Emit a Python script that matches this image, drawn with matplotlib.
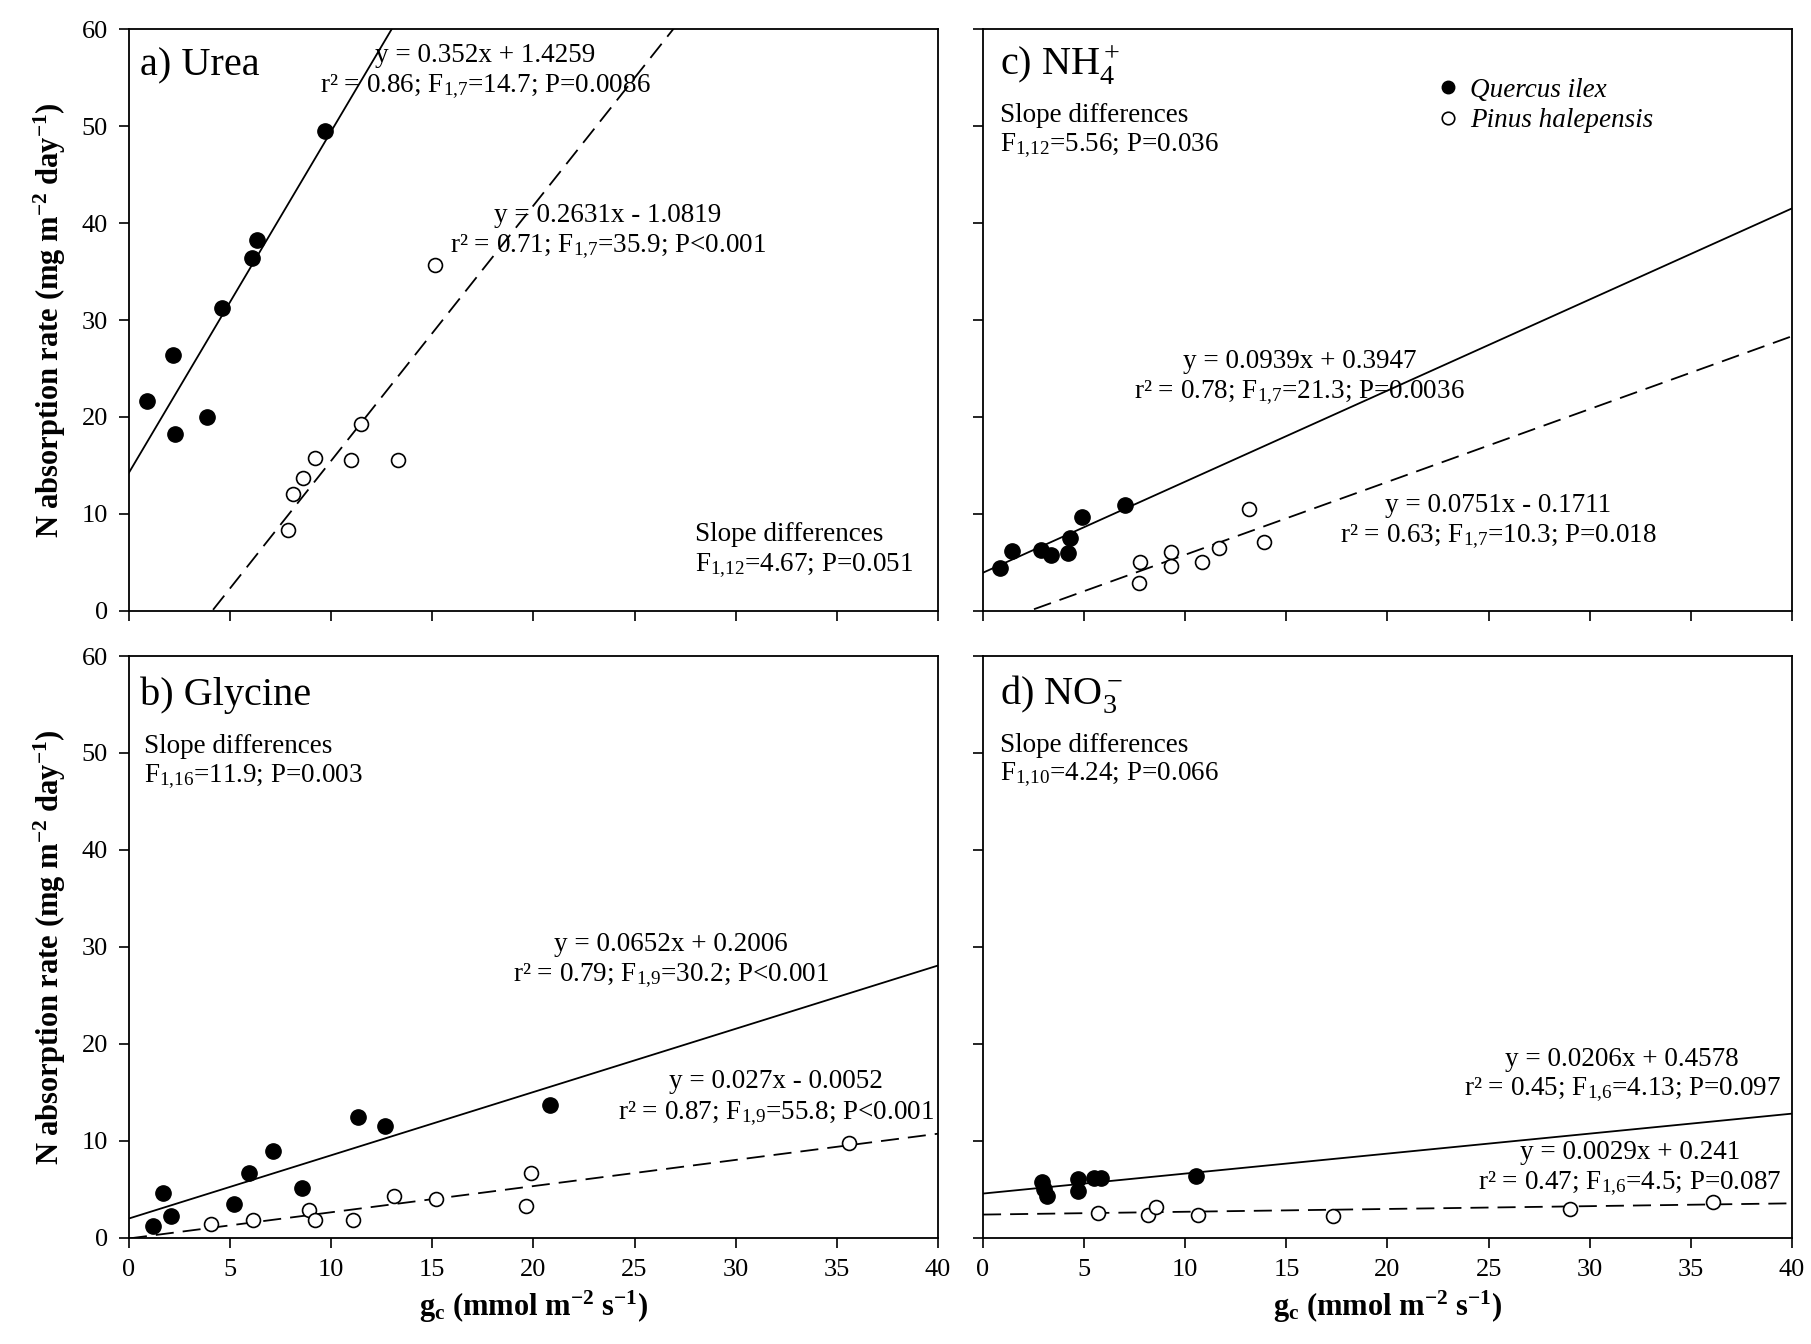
import numpy as np
import matplotlib
matplotlib.use("Agg")
import matplotlib.pyplot as plt

plt.rcParams['font.family'] = ['Liberation Serif', 'DejaVu Serif']
plt.rcParams['mathtext.fontset'] = 'custom'
plt.rcParams['mathtext.rm'] = 'Liberation Serif'
plt.rcParams['mathtext.it'] = 'Liberation Serif:italic'
plt.rcParams['mathtext.bf'] = 'Liberation Serif:bold'

# a) Urea
urea_q_x = [0.9, 2.2, 2.3, 3.85, 4.6, 6.1, 6.35, 9.7]
urea_q_y = [21.7, 26.4, 18.2, 20.0, 31.2, 36.4, 38.2, 49.5]
urea_p_x = [15.15, 11.45, 9.2, 11.0, 13.3, 8.6, 8.1, 7.85]
urea_p_y = [35.7, 19.3, 15.8, 15.6, 15.6, 13.7, 12.1, 8.4]

# b) Glycine
gly_q_x = [1.2, 1.7, 2.1, 5.2, 5.95, 7.1, 8.55, 11.35, 12.65, 20.8]
gly_q_y = [1.2, 4.6, 2.3, 3.55, 6.7, 9.0, 5.1, 12.5, 11.5, 13.7]
gly_p_x = [4.05, 6.15, 8.9, 9.2, 11.1, 13.1, 15.2, 19.9, 19.65, 35.6]
gly_p_y = [1.4, 1.9, 2.9, 1.8, 1.9, 4.3, 4.0, 6.7, 3.3, 9.8]

# c) NH4+
nh4_q_x = [0.85, 1.45, 2.85, 3.35, 4.2, 4.3, 4.9, 7.0]
nh4_q_y = [4.4, 6.2, 6.3, 5.8, 6.0, 7.5, 9.7, 10.9]
nh4_p_x = [13.15, 13.9, 11.65, 10.85, 9.3, 9.3, 7.75, 7.7]
nh4_p_y = [10.5, 7.1, 6.5, 5.0, 6.1, 4.6, 5.1, 2.9]

# d) NO3-
no3_q_x = [2.9, 3.0, 3.15, 4.7, 4.7, 5.5, 5.85, 10.55]
no3_q_y = [5.8, 5.0, 4.3, 6.1, 4.8, 6.2, 6.2, 6.4]
no3_p_x = [5.7, 8.15, 8.55, 10.65, 17.3, 29.0, 36.1]
no3_p_y = [2.6, 2.4, 3.2, 2.4, 2.3, 3.0, 3.7]

# fitted lines (slope, intercept) in plotted units
urea_fit = [(3.52, 14.259), (2.631, -10.819)]
gly_fit = [(0.652, 2.006), (0.27, -0.052)]
nh4_fit = [(0.939, 3.947), (0.751, -1.711)]
no3_fit = [(0.206, 4.578), (0.029, 2.41)]

x_ticks = [0, 5, 10, 15, 20, 25, 30, 35, 40]
y_ticks = [0, 10, 20, 30, 40, 50, 60]

FS = 19.5

fig = plt.figure(figsize=(18.11, 13.44), dpi=100)
w, h = 0.4467, 0.433
ax_a = fig.add_axes([0.0712, 0.5454, w, h])
ax_b = fig.add_axes([0.0712, 0.0789, w, h])
ax_c = fig.add_axes([0.5428, 0.5454, w, h])
ax_d = fig.add_axes([0.5428, 0.0789, w, h])

panels = [
    (ax_a, urea_q_x, urea_q_y, urea_p_x, urea_p_y, urea_fit),
    (ax_b, gly_q_x, gly_q_y, gly_p_x, gly_p_y, gly_fit),
    (ax_c, nh4_q_x, nh4_q_y, nh4_p_x, nh4_p_y, nh4_fit),
    (ax_d, no3_q_x, no3_q_y, no3_p_x, no3_p_y, no3_fit),
]

xx = np.array([0, 40])
for ax, qx, qy, px, py, fit in panels:
    (s1, b1), (s2, b2) = fit
    ax.plot(xx, s1 * xx + b1, color='black', lw=1.3, zorder=2)
    ln, = ax.plot(xx, s2 * xx + b2, color='black', lw=1.3, zorder=2)
    ln.set_dashes((10, 5))
    ax.plot(qx, qy, 'o', color='black', ms=11, zorder=3, label='Quercus ilex')
    ax.plot(px, py, 'o', mfc='white', mec='black', mew=1.2, ms=10, zorder=3,
            label='Pinus halepensis')
    ax.set_xlim(0, 40)
    ax.set_ylim(0, 60)
    ax.set_xticks(x_ticks)
    ax.set_yticks(y_ticks)
    ax.tick_params(direction='out', length=7, width=1.2, labelsize=19, pad=8)
    for sp in ax.spines.values():
        sp.set_linewidth(1.3)

ax_a.tick_params(labelbottom=False)
ax_c.tick_params(labelbottom=False, labelleft=False)
ax_d.tick_params(labelleft=False)

ylab = r'N absorption rate (mg m$^{\mathbf{-2}}$ day$^{\mathbf{-1}}$)'
xlab = r'g$_{\mathbf{c}}$ (mmol m$^{\mathbf{-2}}$ s$^{\mathbf{-1}}$)'
for ax in (ax_a, ax_b):
    ax.set_ylabel(ylab, fontsize=22, fontweight='bold', labelpad=10)
for ax in (ax_b, ax_d):
    ax.set_xlabel(xlab, fontsize=22, fontweight='bold', labelpad=6)

TS = 29
ax_a.text(0.014, 0.937, 'a) Urea', transform=ax_a.transAxes, fontsize=TS, va='center')
ax_b.text(0.014, 0.933, 'b) Glycine', transform=ax_b.transAxes, fontsize=TS, va='center')
ax_c.text(0.021, 0.937, r'c) NH$_4^+$', transform=ax_c.transAxes, fontsize=TS, va='center')
ax_d.text(0.021, 0.933, r'd) NO$_3^-$', transform=ax_d.transAxes, fontsize=TS, va='center')


def txt(ax, x, y, s, ha='center'):
    ax.text(x, y, s, transform=ax.transAxes, fontsize=FS, ha=ha, va='center')


# panel a
txt(ax_a, 0.44, 0.954, 'y = 0.352x + 1.4259')
txt(ax_a, 0.44, 0.900, r'r² = 0.86; F$_{1{,}7}$=14.7; P=0.0086')
txt(ax_a, 0.592, 0.679, 'y = 0.2631x - 1.0819')
txt(ax_a, 0.592, 0.625, r'r² = 0.71; F$_{1{,}7}$=35.9; P<0.001')
txt(ax_a, 0.70, 0.131, 'Slope differences', ha='left')
txt(ax_a, 0.70, 0.077, r'F$_{1{,}12}$=4.67; P=0.051', ha='left')

# panel b
txt(ax_b, 0.019, 0.844, 'Slope differences', ha='left')
txt(ax_b, 0.019, 0.792, r'F$_{1{,}16}$=11.9; P=0.003', ha='left')
txt(ax_b, 0.67, 0.504, 'y = 0.0652x + 0.2006')
txt(ax_b, 0.67, 0.450, r'r² = 0.79; F$_{1{,}9}$=30.2; P<0.001')
txt(ax_b, 0.80, 0.268, 'y = 0.027x - 0.0052')
txt(ax_b, 0.80, 0.214, r'r² = 0.87; F$_{1{,}9}$=55.8; P<0.001')

# panel c
txt(ax_c, 0.021, 0.851, 'Slope differences', ha='left')
txt(ax_c, 0.021, 0.800, r'F$_{1{,}12}$=5.56; P=0.036', ha='left')
txt(ax_c, 0.391, 0.429, 'y = 0.0939x + 0.3947')
txt(ax_c, 0.391, 0.375, r'r² = 0.78; F$_{1{,}7}$=21.3; P=0.0036')
txt(ax_c, 0.637, 0.181, 'y = 0.0751x - 0.1711')
txt(ax_c, 0.637, 0.127, r'r² = 0.63; F$_{1{,}7}$=10.3; P=0.018')

# panel d
txt(ax_d, 0.021, 0.847, 'Slope differences', ha='left')
txt(ax_d, 0.021, 0.796, r'F$_{1{,}10}$=4.24; P=0.066', ha='left')
txt(ax_d, 0.79, 0.307, 'y = 0.0206x + 0.4578')
txt(ax_d, 0.79, 0.254, r'r² = 0.45; F$_{1{,}6}$=4.13; P=0.097')
txt(ax_d, 0.80, 0.147, 'y = 0.0029x + 0.241')
txt(ax_d, 0.80, 0.093, r'r² = 0.47; F$_{1{,}6}$=4.5; P=0.087')

leg = ax_c.legend(loc='upper left', bbox_to_anchor=(0.545, 0.935), frameon=False,
                  handletextpad=0.3, labelspacing=0.2,
                  handlelength=1.0, borderaxespad=0, prop={'style': 'italic', 'size': FS})
for m in leg.legend_handles:
    m.set_markersize(9)

fig.savefig('out.png', dpi=100)
